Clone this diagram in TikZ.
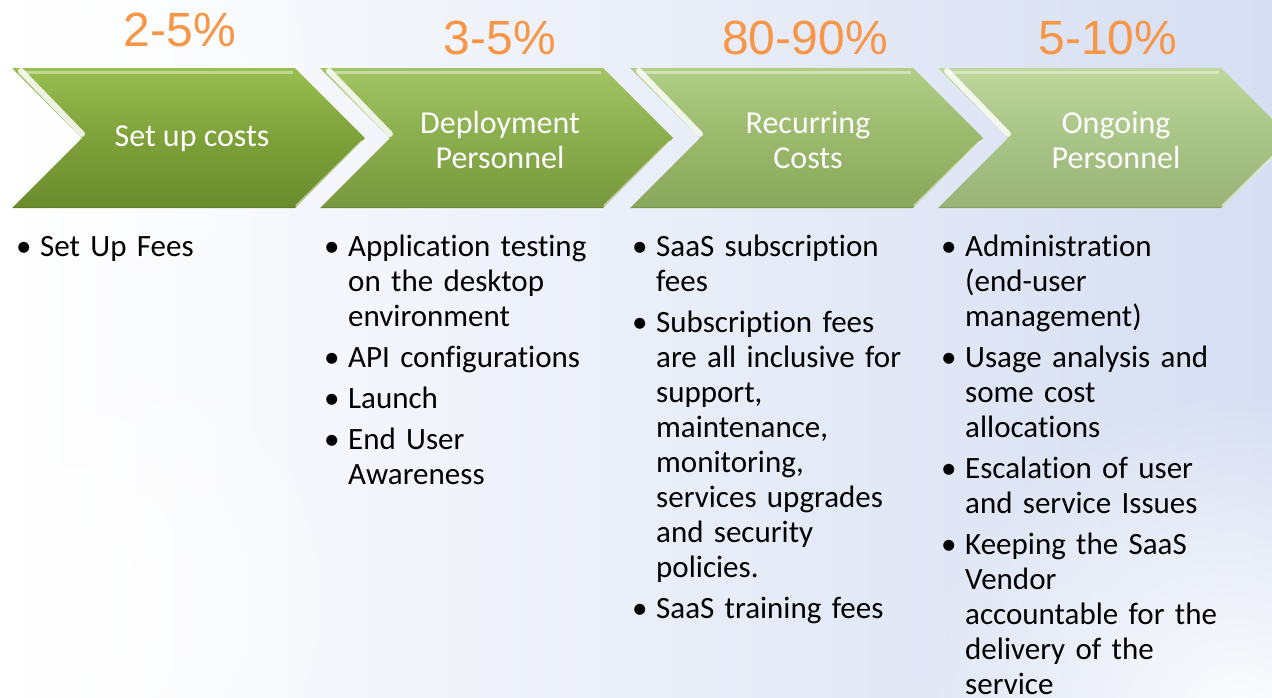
\documentclass[tikz,border=0pt]{standalone}
\usepackage{fontspec}
\setmainfont{Carlito}[Ligatures=NoCommon]
\newfontfamily\pctfont{Liberation Sans}
\usetikzlibrary{fadings}
\definecolor{pct}{HTML}{F79646}
\definecolor{bgblue}{HTML}{C2CFEC}
\definecolor{bgright}{HTML}{D6DEF2}
\definecolor{ga1}{HTML}{98BE50}\definecolor{gb1}{HTML}{7EA13A}\definecolor{gc1}{HTML}{6A8B2D}
\definecolor{ga2}{HTML}{A2C465}\definecolor{gb2}{HTML}{8AAD4D}\definecolor{gc2}{HTML}{78993F}
\definecolor{ga3}{HTML}{B0CE85}\definecolor{gb3}{HTML}{9AB96C}\definecolor{gc3}{HTML}{89A75C}
\definecolor{ga4}{HTML}{BDD79C}\definecolor{gb4}{HTML}{A9C487}\definecolor{gc4}{HTML}{99B377}
\tikzfading[name=softdisc, inner color=transparent!0, outer color=transparent!100]
\newcommand\bitem[1]{\par\hangindent=21pt\hangafter=1\noindent\hbox to 21pt{\rule{0pt}{27pt}\kern-3pt\textbullet\hfil}{\let\\\newline #1}\par}
\tikzset{
  pcttext/.style={text=pct, font=\pctfont\fontsize{48}{52}\selectfont, inner sep=0pt, anchor=base},
  chevtext/.style={text=white, font=\fontsize{32}{35}\selectfont, align=center, inner sep=0pt},
  listtext/.style={font=\fontsize{31}{35}\selectfont, text width=320pt, inner sep=0pt, anchor=north west,
    execute at begin node={\setlength{\parskip}{6pt}\raggedright}},
}
\newcommand\chev[2]{% x0, index
  \shade[top color=ga#2, bottom color=gc#2, middle color=gb#2]
    (#1,68) -- ++(283,0) -- ++(70,70) -- ++(-70,70) -- ++(-283,0) -- ++(70,-70) -- cycle;
  \draw[white, line width=3pt, opacity=0.4] (#1+10,72) -- (#1+281,72);
  \draw[white, line width=6pt, opacity=0.85, line cap=round] (#1+9,71) -- (#1+70,134);
  \draw[white, line width=2pt, opacity=0.5] (#1+350,141) -- (#1+284,206);
  \draw[black, line width=1pt, opacity=0.12] (#1+2,207) -- (#1+283,207);
}
\begin{document}
\begin{tikzpicture}[x=1pt,y=-1pt]
\useasboundingbox (0,0) rectangle (1272,697);
\clip (0,0) rectangle (1272,697);
% background
\shade[left color=white, middle color=bgblue, right color=bgright] (0,0) rectangle (1272,697);
\fill[white, path fading=softdisc, opacity=0.95] (1240,720) circle (330);
\fill[white, path fading=softdisc, opacity=0.9] (60,600) circle (300);
\fill[white, path fading=softdisc, opacity=0.9] (80,80) circle (260);
% chevrons
\chev{12}{1}
\chev{320}{2}
\chev{630}{3}
\chev{938}{4}
% chevron labels
\node[chevtext] (c1) at (12+180,139) {Set up costs};
\node[chevtext] (c2) at (320+180,140) {Deployment\\Personnel};
\node[chevtext] (c3) at (630+178,140) {Recurring\\Costs};
\node[chevtext] (c4) at (938+178,140) {Ongoing\\Personnel};
% percentages
\node[pcttext] (p1) at (180,46) {2-5\%};
\node[pcttext] (p2) at (500,54) {3-5\%};
\node[pcttext] (p3) at (805,54) {80-90\%};
\node[pcttext] (p4) at (1108,54) {5-10\%};
% lists
\node[listtext] (l1) at (19,215) {\bitem{Set Up Fees}};
\node[listtext] (l2) at (327,215) {%
  \bitem{Application testing\\on the desktop\\environment}%
  \bitem{API configurations}%
  \bitem{Launch}%
  \bitem{End User\\Awareness}};
\node[listtext] (l3) at (635,215) {%
  \bitem{SaaS subscription\\fees}%
  \bitem{Subscription fees\\are all inclusive for\\support,\\maintenance,\\monitoring,\\services upgrades\\and security\\policies.}%
  \bitem{SaaS training fees}};
\node[listtext] (l4) at (944,215) {%
  \bitem{Administration\\(end-user\\management)}%
  \bitem{Usage analysis and\\some cost\\allocations}%
  \bitem{Escalation of user\\and service Issues}%
  \bitem{Keeping the SaaS\\Vendor\\accountable for the\\delivery of the\\service}};
\end{tikzpicture}
\end{document}
